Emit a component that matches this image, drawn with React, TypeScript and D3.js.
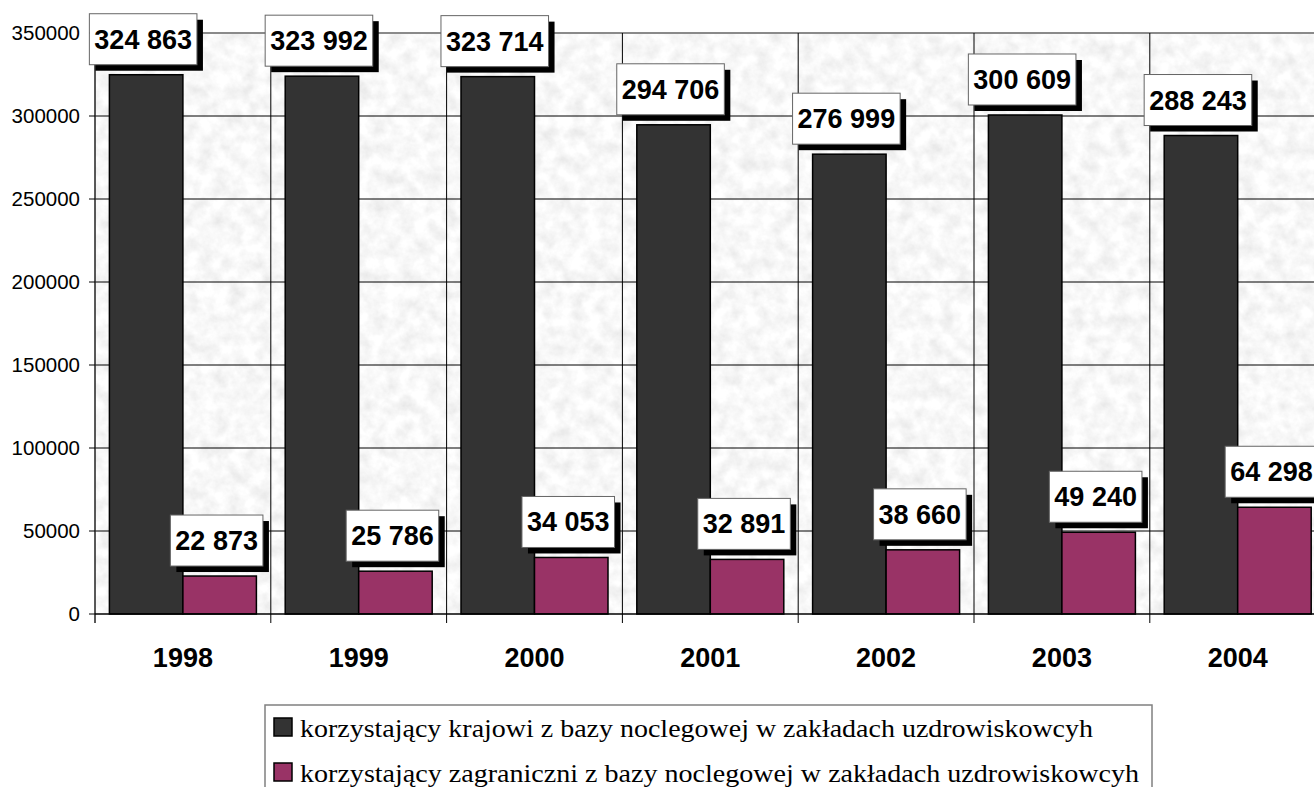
import * as d3 from "d3";

const years = ["1998", "1999", "2000", "2001", "2002", "2003", "2004"];
const krajowi = [324863, 323992, 323714, 294706, 276999, 300609, 288243];
const zagraniczni = [22873, 25786, 34053, 32891, 38660, 49240, 64298];
const yTicks = [0, 50000, 100000, 150000, 200000, 250000, 300000, 350000];
const seriesKeys = ["krajowi", "zagraniczni"];
const seriesColors = ["#333333", "#993366"];
const legendLabels = [
  "korzystający krajowi z bazy noclegowej w zakładach uzdrowiskowcyh",
  "korzystający zagraniczni z bazy noclegowej w zakładach uzdrowiskowcyh",
];
const legendWidths = [793, 839];

const W = 1314;
const H = 787;
const left = 95;
const top = 33;
const bottom = 614;
const step = 175.8;

const fmt = (v: number) => d3.format(",")(v).replace(/,/g, " ");
// rough Arial bold width at 27px
const labelWidth = (s: string) =>
  s.split("").reduce((a, c) => a + (c === " " ? 0.278 : 0.556) * 27, 0) + 10;

export default function App() {
  const x = d3.scaleBand().domain(years).range([left, left + step * years.length]).padding(0);
  const xs = d3.scaleBand().domain(seriesKeys).range([0, x.bandwidth()]).paddingInner(0).paddingOuter(0.196);
  const y = d3.scaleLinear().domain([0, 350000]).range([bottom, top]);
  const plotRight = left + step * years.length;

  const rows = years.map((yr, i) => ({ yr, vals: [krajowi[i], zagraniczni[i]] }));

  return (
    <svg width={W} height={H} style={{ position: "absolute", left: 0, top: 0, background: "#fff" }}>
      <defs>
        <filter id="granite" x="0" y="0" width="100%" height="100%">
          <feTurbulence type="fractalNoise" baseFrequency="0.07" numOctaves="4" seed="7" result="n" />
          <feColorMatrix
            in="n"
            type="matrix"
            values="0.32 0 0 0 0.78  0.32 0 0 0 0.78  0.32 0 0 0 0.78  0 0 0 0 1"
          />
        </filter>
      </defs>

      {/* plot background */}
      <rect x={left} y={top} width={plotRight - left} height={bottom - top} fill="#ececec" />
      <rect x={left} y={top} width={plotRight - left} height={bottom - top} filter="url(#granite)" />
      <line x1={left} x2={plotRight} y1={top} y2={top} stroke="#8a8a8a" strokeWidth={2} />

      {/* gridlines */}
      {yTicks.slice(1, -1).map((t) => (
        <line key={t} x1={left} x2={plotRight} y1={y(t)} y2={y(t)} stroke="#000" strokeWidth={1} />
      ))}
      {years.map((yr) => (
        <line key={yr} x1={x(yr)!} x2={x(yr)!} y1={top} y2={bottom + 9} stroke="#000" strokeWidth={1} />
      ))}

      {/* y axis */}
      <line x1={left} x2={left} y1={top} y2={bottom + 9} stroke="#333" strokeWidth={1} />
      {yTicks.map((t) => (
        <g key={t}>
          <line x1={left - 6} x2={left} y1={y(t)} y2={y(t)} stroke="#000" />
          <text
            x={80}
            y={y(t) + 7}
            textAnchor="end"
            fontFamily="'Liberation Sans', Arial, sans-serif"
            fontSize={20.5}
            fill="#000"
          >
            {t}
          </text>
        </g>
      ))}

      {/* bars */}
      {rows.map((r) =>
        r.vals.map((v, j) => (
          <rect
            key={r.yr + j}
            x={x(r.yr)! + xs(seriesKeys[j])!}
            y={y(v)}
            width={xs.bandwidth()}
            height={bottom - y(v)}
            fill={seriesColors[j]}
            stroke="#000"
            strokeWidth={1.5}
          />
        ))
      )}
      <line x1={left} x2={plotRight} y1={bottom} y2={bottom} stroke="#000" strokeWidth={1.5} />

      {/* value labels */}
      {rows.map((r) =>
        r.vals.map((v, j) => {
          const s = fmt(v);
          const w = labelWidth(s);
          const h = 51;
          const cx = x(r.yr)! + xs(seriesKeys[j])! + xs.bandwidth() / 2;
          const bx = cx - (w + 6) / 2;
          const by = y(v) - 10 - h;
          return (
            <g key={"l" + r.yr + j}>
              <rect x={bx + 6} y={by + 6} width={w} height={h} fill="#000" />
              <rect x={bx} y={by} width={w} height={h} fill="#fff" stroke="#666" strokeWidth={1} />
              <text
                x={bx + w / 2}
                y={by + 35}
                textAnchor="middle"
                fontFamily="'Liberation Sans', Arial, sans-serif"
                fontWeight="bold"
                fontSize={27}
                fill="#000"
              >
                {s}
              </text>
            </g>
          );
        })
      )}

      {/* category labels */}
      {years.map((yr) => (
        <text
          key={"c" + yr}
          x={x(yr)! + x.bandwidth() / 2}
          y={667}
          textAnchor="middle"
          fontFamily="'Liberation Sans', Arial, sans-serif"
          fontWeight="bold"
          fontSize={27}
          fill="#000"
        >
          {yr}
        </text>
      ))}

      {/* legend */}
      <rect x={265} y={705} width={887} height={100} fill="#fff" stroke="#808080" strokeWidth={1.5} />
      {legendLabels.map((lab, i) => (
        <g key={lab}>
          <rect x={274} y={718 + i * 45} width={18} height={18} fill={seriesColors[i]} stroke="#000" strokeWidth={1.5} />
          <text
            x={300}
            y={737 + i * 45}
            fontFamily="'Liberation Serif', 'Times New Roman', 'DejaVu Serif', serif"
            fontSize={26}
            textLength={legendWidths[i]}
            lengthAdjust="spacingAndGlyphs"
            fill="#000"
          >
            {lab}
          </text>
        </g>
      ))}
    </svg>
  );
}
